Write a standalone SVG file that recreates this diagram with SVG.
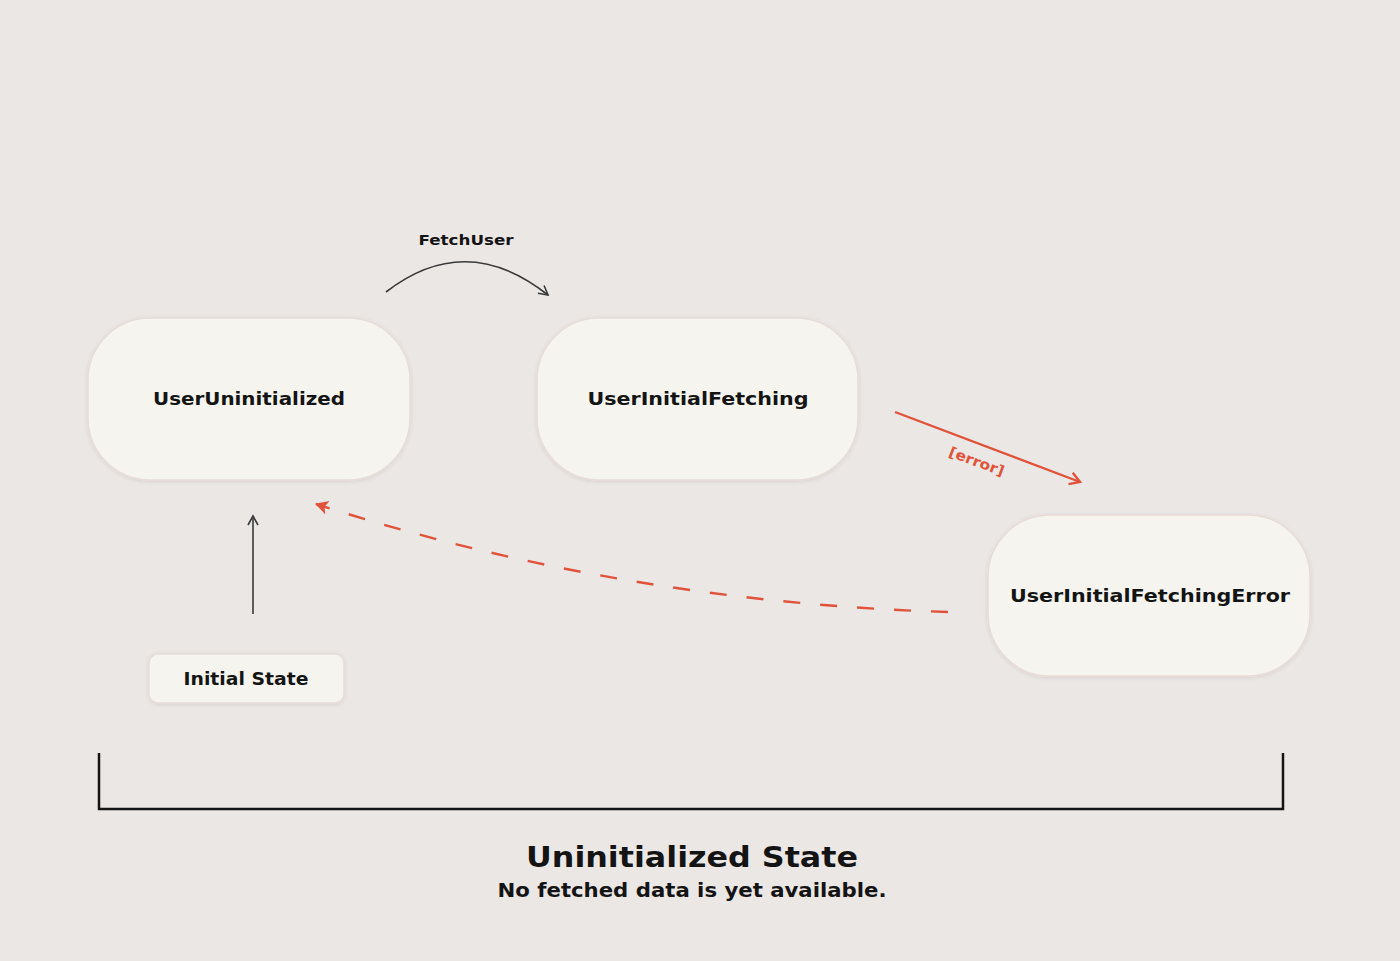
<svg xmlns="http://www.w3.org/2000/svg" width="1400" height="961" viewBox="0 0 1400 961">
<defs>
<style>
.node{fill:#f5f4ef;stroke:#e8dcd7;stroke-width:1.5;filter:url(#sh)}
.lbl{font-family:"DejaVu Sans",Inter,sans-serif;font-weight:700;fill:#141414;text-anchor:middle}
.dark{fill:none;stroke:#3a3a3a;stroke-width:1.6}
.red{fill:none;stroke:#e0533a;stroke-width:2.4}
</style>
<filter id="sh" x="-10%" y="-10%" width="120%" height="120%">
<feGaussianBlur in="SourceAlpha" stdDeviation="2"/>
<feOffset dy="1"/>
<feComponentTransfer><feFuncA type="linear" slope="0.1"/></feComponentTransfer>
<feMerge><feMergeNode/><feMergeNode in="SourceGraphic"/></feMerge>
</filter>
<marker id="open" markerWidth="14" markerHeight="14" refX="10" refY="6" orient="auto" markerUnits="userSpaceOnUse">
<path d="M1,1 L10,6 L1,11" fill="none" stroke="#3a3a3a" stroke-width="1.6"/>
</marker>
<marker id="openRed" markerWidth="16" markerHeight="16" refX="11" refY="7" orient="auto" markerUnits="userSpaceOnUse">
<path d="M1,1 L11,7 L1,13" fill="none" stroke="#e0533a" stroke-width="2.4"/>
</marker>
<marker id="fillRed" markerWidth="18" markerHeight="18" refX="12" refY="7" orient="auto" markerUnits="userSpaceOnUse">
<path d="M0,0 L13,7 L0,14 L3,7 Z" fill="#e0533a"/>
</marker>
</defs>
<rect width="1400" height="961" fill="#ebe7e5"/>

<g id="connectors">
<path class="dark" d="M386,292 Q466,230 548,295" marker-end="url(#open)"/>
<text class="lbl" x="466" y="245" font-size="13.5" textLength="95" lengthAdjust="spacingAndGlyphs">FetchUser</text>
<path class="red" d="M895,412 L1080,482" marker-end="url(#openRed)"/>
<text x="975" y="466" font-family="'DejaVu Sans',Inter,sans-serif" font-weight="700" font-size="14" fill="#e0533a" text-anchor="middle" transform="rotate(20.7 975 466)" textLength="58" lengthAdjust="spacingAndGlyphs">[error]</text>
<path class="dark" d="M253,614 L253,516" marker-end="url(#open)"/>
<path class="red" d="M948,612 Q620,602 316,504" stroke-dasharray="17 20" marker-end="url(#fillRed)"/>
</g>

<g id="UserUninitialized">
<rect class="node" x="88" y="318" width="322" height="162" rx="62"/>
<text class="lbl" x="249" y="405" font-size="17.5" textLength="192" lengthAdjust="spacingAndGlyphs">UserUninitialized</text>
</g>
<g id="UserInitialFetching">
<rect class="node" x="537" y="318" width="321" height="162" rx="62"/>
<text class="lbl" x="698" y="405" font-size="17.5" textLength="221" lengthAdjust="spacingAndGlyphs">UserInitialFetching</text>
</g>
<g id="UserInitialFetchingError">
<rect class="node" x="988" y="515" width="322" height="161" rx="62"/>
<text class="lbl" x="1150" y="602" font-size="17.5" textLength="280" lengthAdjust="spacingAndGlyphs">UserInitialFetchingError</text>
</g>
<g id="InitialState">
<rect class="node" x="149" y="654" width="195" height="49" rx="9"/>
<text class="lbl" x="246" y="685" font-size="17" textLength="125" lengthAdjust="spacingAndGlyphs">Initial State</text>
</g>

<g id="bracket">
<path d="M99,753 L99,809 L1283,809 L1283,753" fill="none" stroke="#141414" stroke-width="2.5"/>
<text class="lbl" x="692" y="867" font-size="29" textLength="332" lengthAdjust="spacingAndGlyphs">Uninitialized State</text>
<text class="lbl" x="692" y="897" font-size="19" textLength="389" lengthAdjust="spacingAndGlyphs">No fetched data is yet available.</text>
</g>
</svg>
